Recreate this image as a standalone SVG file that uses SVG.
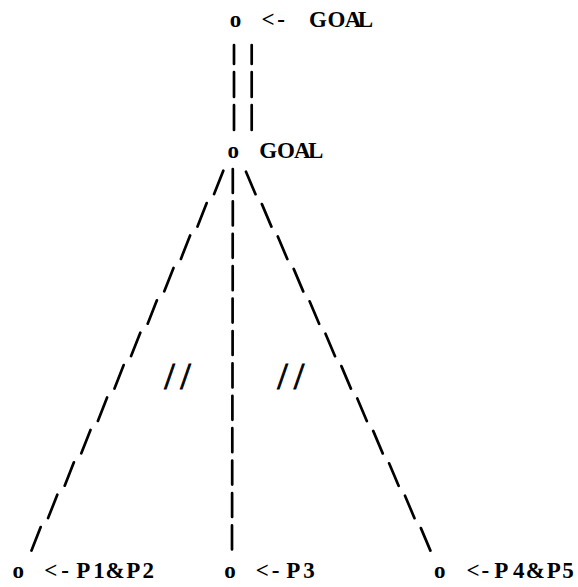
<svg xmlns="http://www.w3.org/2000/svg" width="578" height="587" viewBox="0 0 578 587">
  <style>
    .t { font-family: "Liberation Serif", "Times New Roman", serif; font-size: 23px; font-weight: bold; fill: #000; text-anchor: middle; }
    .mk { font-family: "Liberation Serif", "Times New Roman", serif; font-size: 38px; fill: #000; stroke: #000; stroke-width: 0.9; text-anchor: middle; }
    .c { fill: none; stroke: #000; stroke-width: 2.7; stroke-linecap: round; }
  </style>
  <rect width="578" height="587" fill="#fff"/>

  <g id="connectors">
    <path id="goal-link" class="c" d="M234 45V64M234 72V97M234 105V130M251.7 45V64M251.7 72V97M251.7 105V130"/>
    <path id="link-p1p2" class="c" d="M223.3 170.7L214.1 194.1M206.7 203.1L197.5 226.5M190.1 235.5L180.9 258.9M173.5 267.9L164.3 291.3M156.9 300.3L147.7 323.7M140.3 332.7L131.1 356.1M123.7 365.1L114.5 388.5M107.1 397.5L97.9 420.9M90.5 429.9L81.3 453.3M73.9 462.3L64.7 485.7M57.3 494.7L48.1 518.1M40.7 527.1L31.5 550.5"/>
    <path id="link-p3" class="c" d="M232.8 169V193M232.8 201.4V225.4M232.7 233.8V257.8M232.7 266.2V290.2M232.6 298.6V322.6M232.6 331V355M232.5 363.4V387.4M232.4 395.8V419.8M232.3 428.2V452.2M232.2 460.6V484.6M232.1 493V517M232 525.4V549.4"/>
    <path id="link-p4p5" class="c" d="M246 171.7L255.5 194.2M261.9 204.1L271.4 226.6M277.8 236.5L287.3 259M293.7 268.9L303.2 291.4M309.6 301.3L319.1 323.8M325.5 333.7L335 356.2M341.4 366.1L350.9 388.6M357.3 398.5L366.8 421M373.2 430.9L382.7 453.4M389.1 463.3L398.6 485.8M405 495.7L414.5 518.2M420.9 528.1L430.4 550.6"/>
  </g>

  <g id="marks">
    <text class="mk" x="169.5 185.5" y="389">//</text>
    <text class="mk" x="282.5 299" y="389">//</text>
  </g>

  <g id="node-goal-top">
    <text class="t" x="235.5 268 281 318 336.5 353 365.5" y="27">o&lt;-GOAL</text>
  </g>
  <g id="node-goal">
    <text class="t" x="233.3 268.3 286 302.3 315.7" y="158">oGOAL</text>
  </g>
  <g id="node-p1p2">
    <text class="t" x="18.3 50.7 65 83.3 99 115 133.3 148.3" y="578">o&lt;-P1&amp;P2</text>
  </g>
  <g id="node-p3">
    <text class="t" x="230 262.3 275.7 293.3 309" y="578">o&lt;-P3</text>
  </g>
  <g id="node-p4p5">
    <text class="t" x="439.7 473 485.3 501.3 518.7 535.3 553.7 568" y="578">o&lt;-P4&amp;P5</text>
  </g>
</svg>
